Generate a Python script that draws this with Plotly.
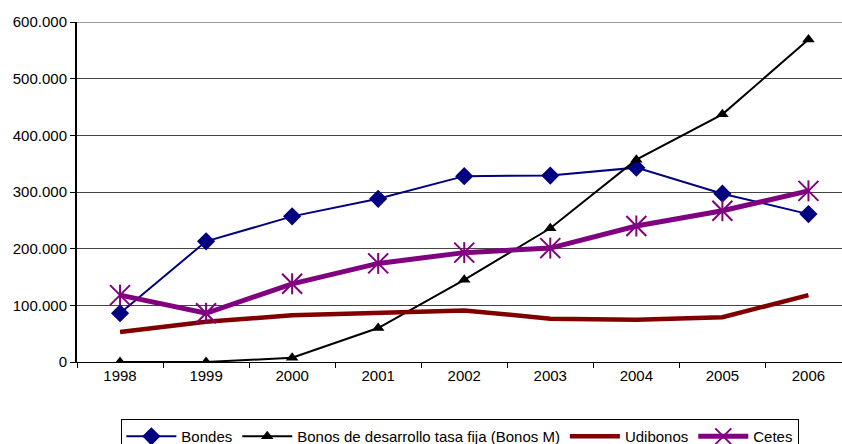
import plotly.graph_objects as go

years = ["1998", "1999", "2000", "2001", "2002", "2003", "2004", "2005", "2006"]
bondes = [86000, 213000, 257000, 288000, 328000, 329000, 343000, 297000, 261000]
bonos_m = [0, 0, 7500, 60000, 145000, 236000, 357000, 437000, 569000]
udibonos = [53000, 71000, 82500, 86000, 91000, 76500, 74500, 79000, 118000]
cetes = [118000, 86000, 138000, 174000, 193000, 201000, 240000, 267000, 302000]

y_ticks = [0, 100000, 200000, 300000, 400000, 500000, 600000]

fig = go.Figure()
fig.add_trace(go.Scatter(x=years, y=bondes, name="Bondes", mode="lines+markers",
                         line=dict(color="#000080", width=2),
                         marker=dict(symbol="diamond", size=14, color="#000080")))
fig.add_trace(go.Scatter(x=years, y=bonos_m, name="Bonos de desarrollo tasa fija (Bonos M)",
                         mode="lines+markers",
                         line=dict(color="#000000", width=2),
                         marker=dict(symbol="triangle-up", size=11, color="#000000")))
fig.add_trace(go.Scatter(x=years, y=udibonos, name="Udibonos", mode="lines",
                         line=dict(color="#800000", width=4.5)))
fig.add_trace(go.Scatter(x=years, y=cetes, name="Cetes", mode="lines+markers",
                         legendgroup="cetes",
                         line=dict(color="#800080", width=5),
                         marker=dict(symbol="x-thin-open", size=20, color="#800080",
                                     line=dict(color="#800080", width=2))))
fig.add_trace(go.Scatter(x=years, y=cetes, name="Cetes", mode="markers",
                         legendgroup="cetes", showlegend=False, hoverinfo="skip",
                         marker=dict(symbol="line-ns-open", size=15, color="#800080",
                                     line=dict(color="#800080", width=2))))

fig.add_shape(type="line", xref="paper", yref="y", x0=0, x1=1, y0=600000, y1=600000,
              line=dict(color="#999999", width=2), layer="below")

# figure is slightly taller than the window so the legend box is clipped at the bottom
fig.update_layout(
    width=842, height=460,
    margin=dict(l=77, r=0, t=22, b=98),
    paper_bgcolor="white", plot_bgcolor="white",
    separators=",.",
    font=dict(family="Liberation Sans, Arial, sans-serif", size=15, color="#000000"),
    showlegend=True,
    legend=dict(orientation="h", x=0.058, y=-0.168, xanchor="left", yanchor="top",
                bordercolor="#000000", borderwidth=1, bgcolor="white",
                font=dict(size=15), itemwidth=50, tracegroupgap=0),
    xaxis=dict(type="category", range=[-0.5, 8.39], tickson="boundaries",
               ticks="outside", ticklen=5, tickcolor="#000000",
               showline=True, linecolor="#000000", linewidth=1,
               showgrid=False, zeroline=False, fixedrange=True),
    yaxis=dict(range=[0, 600000], tickvals=y_ticks, tickformat=",d",
               ticks="outside", ticklen=5, tickcolor="#000000",
               showline=True, linecolor="#000000", linewidth=2,
               showgrid=True, gridcolor="#444444", gridwidth=1,
               zeroline=False, fixedrange=True),
)

fig.write_html("out.html", config={"displayModeBar": False},
               post_script="document.body.style.margin='0';document.body.style.overflow='hidden';document.documentElement.style.overflow='hidden';")
